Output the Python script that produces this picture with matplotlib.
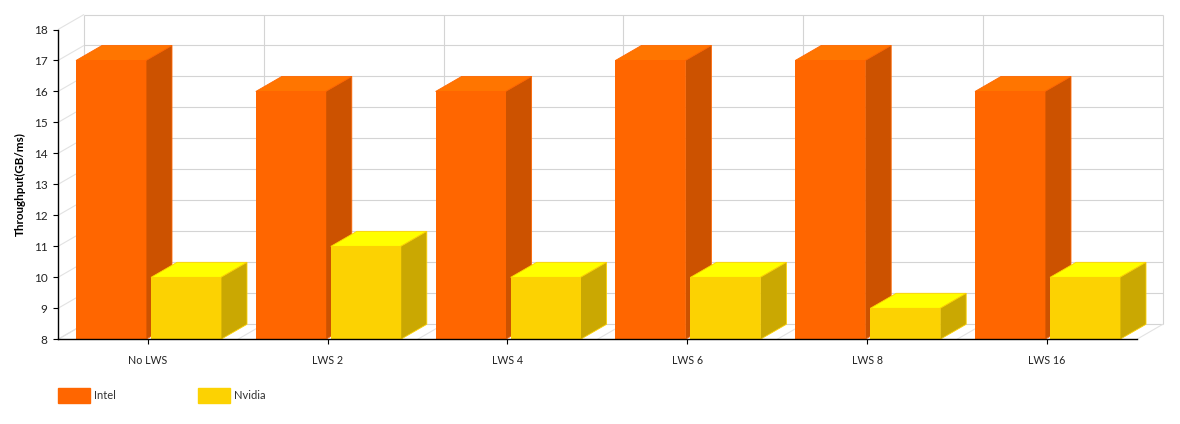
import matplotlib
matplotlib.use('Agg')
import matplotlib.pyplot as plt
from matplotlib.patches import Polygon

categories = ['No LWS', 'LWS 2', 'LWS 4', 'LWS 6', 'LWS 8', 'LWS 16']
intel = [17, 16, 16, 17, 17, 16]
nvidia = [10, 11, 10, 10, 9, 10]
y_ticks = list(range(8, 19))

# colours: front, top, side
intel_col = ['#FF6600', '#FF7500', '#CC5200']
nvidia_col = ['#FCD202', '#FFFF00', '#CAA802']

W, H = 1180, 424
plt.rcParams['font.family'] = ['Lato', 'Open Sans', 'DejaVu Sans']

fig = plt.figure(figsize=(W / 100, H / 100), dpi=100)
ax = fig.add_axes([58.0 / W, 1 - 339.3 / H, 1078.8 / W, 309.8 / H])
ax.set_xlim(0, len(categories))
ax.set_ylim(8, 18)

# 3d depth in data units (26px right, 15px up)
pitch = 1078.8 / 6
dx = 26 / pitch
dy = 15 / 30.98
bar_w = 70 / pitch


def wall_line(xs, ys, col):
    ax.plot(xs, ys, color=col, lw=0.8, clip_on=False, zorder=1, solid_capstyle='butt')


# back wall and side wall grid
for t in y_ticks:
    wall_line([dx, len(categories) + dx], [t + dy, t + dy], '#D4D4D4')
    wall_line([0, dx], [t, t + dy], '#E2E2E2')
for i in range(len(categories) + 1):
    wall_line([i + dx, i + dx], [8 + dy, 18 + dy], '#D4D4D4')
    wall_line([i, i + dx], [8, 8 + dy], '#E2E2E2')


def bar3d(x, val, cols, z):
    ax.bar(x, val - 8, bar_w, bottom=8, align='edge', color=cols[0], zorder=z + 0.2)
    top = [(x, val), (x + bar_w, val), (x + bar_w + dx, val + dy), (x + dx, val + dy)]
    side = [(x + bar_w, 8), (x + bar_w + dx, 8 + dy), (x + bar_w + dx, val + dy), (x + bar_w, val)]
    ax.add_patch(Polygon(top, closed=True, fc=cols[1], ec=cols[0], lw=0.6, zorder=z, clip_on=False))
    ax.add_patch(Polygon(side, closed=True, fc=cols[2], ec=cols[0], lw=0.6, zorder=z, clip_on=False))


z = 1.2
for i in range(len(categories)):
    bar3d(i + 18 / pitch, intel[i], intel_col, z)
    bar3d(i + 93 / pitch, nvidia[i], nvidia_col, z + 0.3)
    z += 0.05

ax.set_xticks([i + 0.5 for i in range(len(categories))])
ax.set_xticklabels(categories)
ax.set_yticks(y_ticks)
ax.tick_params(axis='x', length=3.6, width=0.8, pad=8, labelsize=7.7, labelcolor='#222222')
ax.tick_params(axis='y', length=3.6, width=0.8, pad=4, labelsize=8.5, labelcolor='#222222')
for s in ['top', 'right']:
    ax.spines[s].set_visible(False)
for s in ['left', 'bottom']:
    ax.spines[s].set_linewidth(1.0)
    ax.spines[s].set_zorder(5)

fig.text(20 / W, 1 - 184 / H, 'Throughput(GB/ms)', rotation=90, ha='center', va='center',
         fontsize=8.4, fontweight='bold', color='#000000')

handles = [plt.Rectangle((0, 0), 1, 1, color=intel_col[0]), plt.Rectangle((0, 0), 1, 1, color=nvidia_col[0])]
fig.legend(handles, ['Intel', 'Nvidia'], loc='center left', bbox_to_anchor=(58 / W, 1 - 395.5 / H),
           ncol=2, frameon=False, fontsize=8, borderpad=0, borderaxespad=0, handlelength=2.9,
           handleheight=1.7, handletextpad=0.35, columnspacing=7.35, labelcolor='#333333')

fig.savefig('out.png', dpi=100)
